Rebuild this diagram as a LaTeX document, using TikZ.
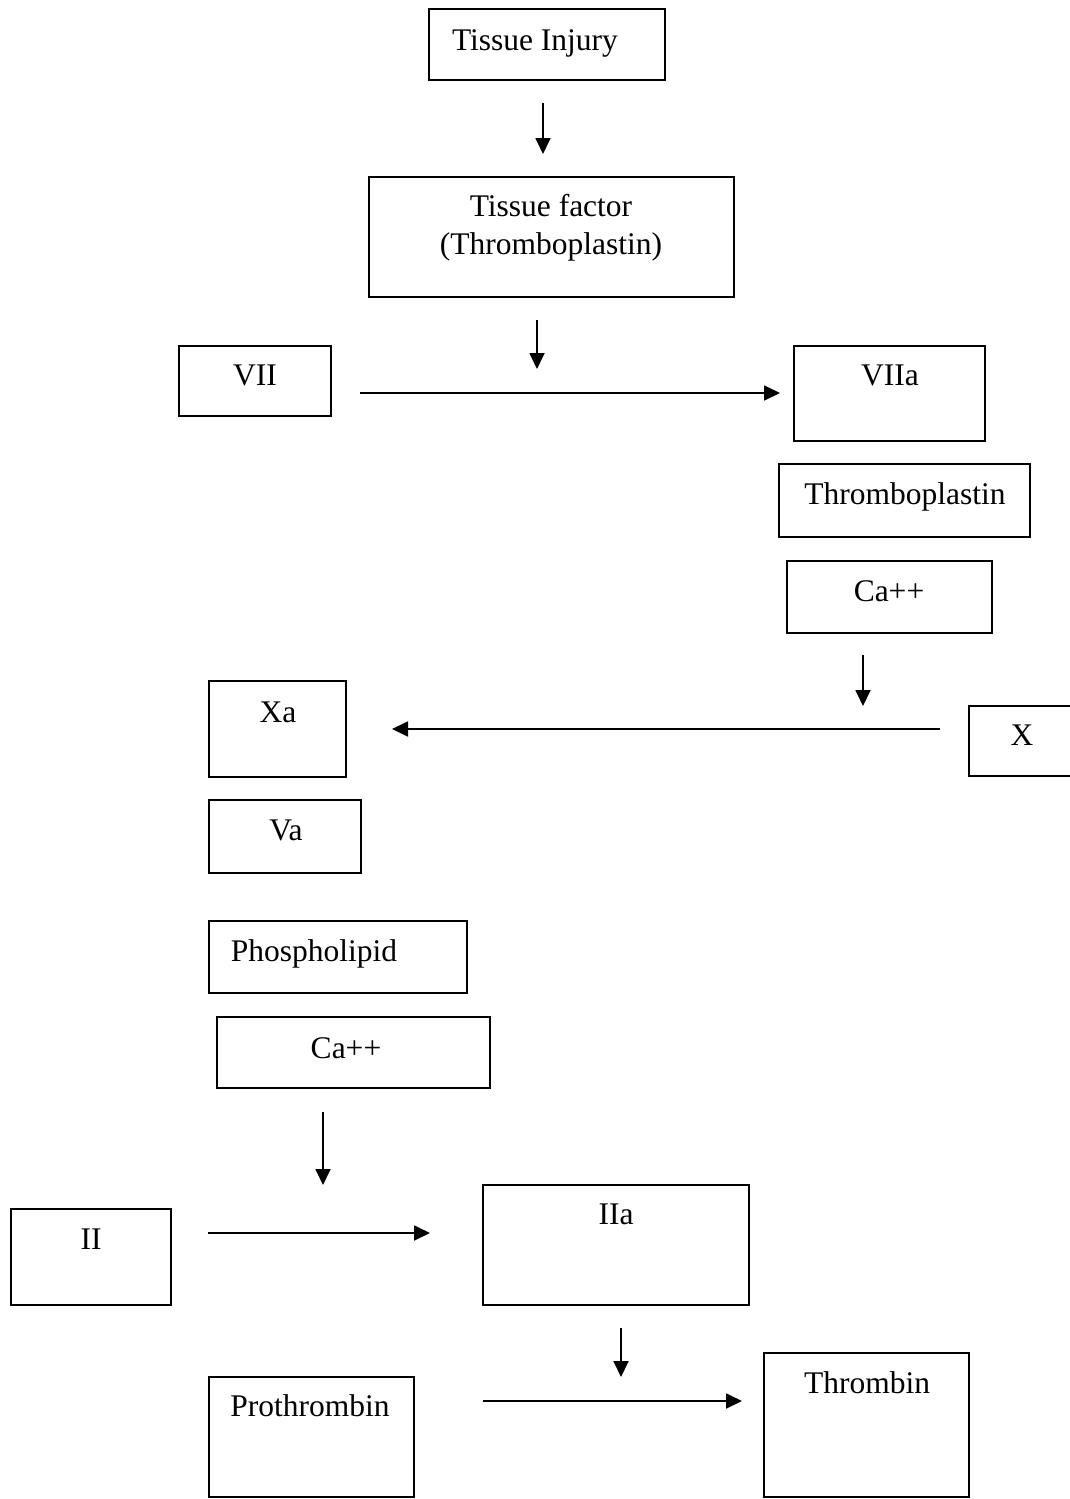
\documentclass[tikz,border=0pt]{standalone}
\usepackage{fontspec}
\setmainfont{Liberation Serif}
\usetikzlibrary{arrows.meta}
\begin{document}
\begin{tikzpicture}[x=1pt,y=-1pt,
  box/.style={draw=black,line width=1.8pt},
  txt/.style={font=\fontsize{31.5}{38}\selectfont,inner sep=0pt,anchor=base},
  arr/.style={line width=1.8pt,-{Triangle[length=16pt,width=15pt]}}]
\useasboundingbox[fill=white] (0,0) rectangle (1070,1499);
% boxes
\draw[box] (429,9) rectangle (665,80); \coordinate (ti) at (547,45);
\node[txt] (tit) at (535,50) {Tissue Injury};
\draw[box] (369,177) rectangle (734,297);
\node[txt] (tf1) at (551,216) {Tissue factor};
\node[txt] (tf2) at (551,254) {(Thromboplastin)};
\draw[box] (179,346) rectangle (331,416);
\node[txt] (vii) at (255,385) {VII};
\draw[box] (794,346) rectangle (985,441);
\node[txt] (viia) at (890,385) {VIIa};
\draw[box] (779,464) rectangle (1030,537);
\node[txt] (tp) at (905,504) {Thromboplastin};
\draw[box] (787,561) rectangle (992,633);
\node[txt] (ca1) at (889,601) {Ca++};
\draw[box] (969,706) rectangle (1090,776);
\node[txt] (x) at (1022,745) {X};
\draw[box] (209,681) rectangle (346,777);
\node[txt] (xa) at (278,722) {Xa};
\draw[box] (209,800) rectangle (361,873);
\node[txt] (va) at (286,840) {Va};
\draw[box] (209,921) rectangle (467,993);
\node[txt] (pl) at (314,961) {Phospholipid};
\draw[box] (217,1017) rectangle (490,1088);
\node[txt] (ca2) at (346,1058) {Ca++};
\draw[box] (11,1209) rectangle (171,1305);
\node[txt] (ii) at (91,1249) {II};
\draw[box] (483,1185) rectangle (749,1305);
\node[txt] (iia) at (616,1224) {IIa};
\draw[box] (209,1377) rectangle (414,1497);
\node[txt] (pt) at (310,1416) {Prothrombin};
\draw[box] (764,1353) rectangle (969,1497);
\node[txt] (th) at (867,1393) {Thrombin};
% arrow end points
\coordinate (a1s) at (543,103); \coordinate (a1e) at (543,154);
\coordinate (a2s) at (537,320); \coordinate (a2e) at (537,369);
\coordinate (h1s) at (360,393); \coordinate (h1e) at (780,393);
\coordinate (a3s) at (863,655); \coordinate (a3e) at (863,706);
\coordinate (h2s) at (940,729); \coordinate (h2e) at (392,729);
\coordinate (a4s) at (323,1112); \coordinate (a4e) at (323,1185);
\coordinate (h3s) at (208,1233); \coordinate (h3e) at (430,1233);
\coordinate (a5s) at (621,1328); \coordinate (a5e) at (621,1377);
\coordinate (h4s) at (483,1401); \coordinate (h4e) at (742,1401);
\draw[arr] (a1s) -- (a1e);
\draw[arr] (a2s) -- (a2e);
\draw[arr] (h1s) -- (h1e);
\draw[arr] (a3s) -- (a3e);
\draw[arr] (h2s) -- (h2e);
\draw[arr] (a4s) -- (a4e);
\draw[arr] (h3s) -- (h3e);
\draw[arr] (a5s) -- (a5e);
\draw[arr] (h4s) -- (h4e);
\end{tikzpicture}
\end{document}
